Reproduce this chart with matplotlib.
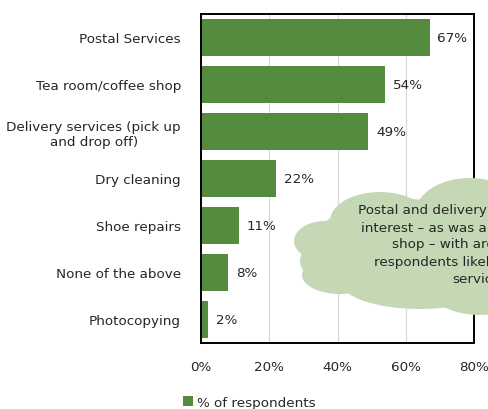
import matplotlib.pyplot as plt
from matplotlib.patches import Ellipse

# Data
kategoriler = [
    'Postal Services',
    'Tea room/coffee shop',
    'Delivery services (pick up\nand drop off)',
    'Dry cleaning',
    'Shoe repairs',
    'None of the above',
    'Photocopying',
]
degerler = [67, 54, 49, 22, 11, 8, 2]
x_ticks = [0, 20, 40, 60, 80]
seri_adi = '% of respondents'
bulut_metni = ('Postal and delivery services of most\n'
               'interest \u2013 as was a tea room/coffee\n'
               'shop \u2013 with around half of\n'
               'respondents likely to use these\n'
               'services')

bar_renk = '#558b3e'
bulut_renk = '#c4d8b5'
yazi_renk = '#262626'
fs = 9.7

plt.rcParams['font.family'] = ['DejaVu Sans']

fig = plt.figure(figsize=(4.88, 4.10), dpi=100)
ax = fig.add_axes([201 / 488, 1 - 344 / 410, 273 / 488, 329 / 410])

y = list(range(len(kategoriler)))
ax.barh(y, degerler, height=0.79, color=bar_renk, label=seri_adi, zorder=2)
ax.set_ylim(len(kategoriler) - 0.5, -0.5)
ax.set_xlim(0, 80)

# Etiketler
for yi, v in zip(y, degerler):
    ax.text(v + 2.3, yi, f'{v}%', va='center', ha='left', fontsize=fs, color=yazi_renk)

ax.set_yticks(y)
ax.set_yticklabels(kategoriler, fontsize=fs, color=yazi_renk)
for lbl in ax.get_yticklabels():
    lbl.set_multialignment('center')
ax.set_xticks(x_ticks)
ax.set_xticklabels([f'{t}%' for t in x_ticks], fontsize=fs, color=yazi_renk)
ax.tick_params(axis='both', length=0)
ax.tick_params(axis='y', pad=14.4)
ax.tick_params(axis='x', pad=12)

ax.grid(axis='x', color='#d9d9d9', linewidth=0.9, zorder=0)
ax.set_axisbelow(True)
for s in ax.spines.values():
    s.set_color('black')
    s.set_linewidth(1.4)

fig.legend(loc='lower left', bbox_to_anchor=(171 / 488, -12 / 410), frameon=False,
           fontsize=fs, handlelength=0.7, handleheight=0.7, handletextpad=0.3,
           labelcolor=yazi_renk)

# Bulut (cloud) overlay
ov = fig.add_axes([0, 0, 1, 1], zorder=5)
ov.set_xlim(0, 488)
ov.set_ylim(410, 0)
ov.axis('off')
ov.patch.set_alpha(0)

loblar = [
    (380, 222, 100, 58),
    (470, 215, 110, 72),
    (325, 242, 62, 40),
    (340, 276, 76, 38),
    (420, 282, 160, 56),
    (480, 290, 100, 52),
    (405, 250, 190, 100),
    (360, 252, 110, 76),
    (345, 262, 90, 50),
]
for cx, cy, w, h in loblar:
    ov.add_patch(Ellipse((cx, cy), w, h, facecolor=bulut_renk, edgecolor='none'))

ov.text(480, 245, bulut_metni, ha='center', va='center', fontsize=fs,
        color=yazi_renk, linespacing=1.42, multialignment='center')

fig.savefig('out.png', dpi=100)
